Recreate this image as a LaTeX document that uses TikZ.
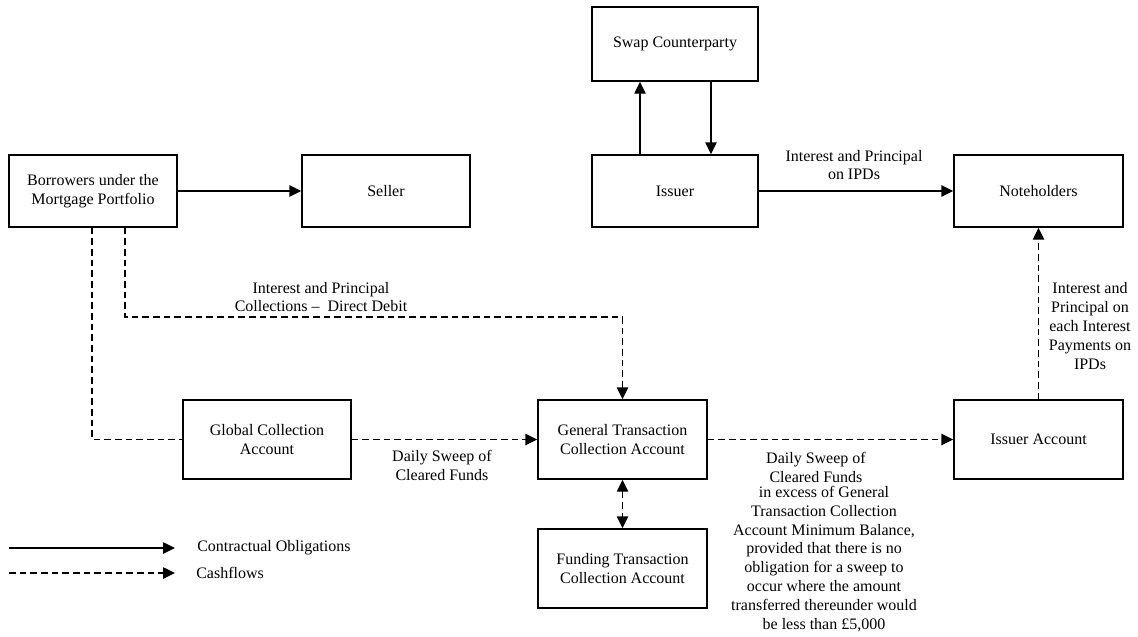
\documentclass[tikz,border=0pt]{standalone}
\usepackage{fontspec}
\setmainfont{Liberation Serif}
\usetikzlibrary{arrows.meta,calc}
\begin{document}
\begin{tikzpicture}[x=0.75pt,y=-0.75pt,
  box/.style={draw,line width=1.1pt,rectangle,inner sep=0pt,align=center,font=\fontsize{12}{14.5}\selectfont},
  lbl/.style={inner sep=0pt,align=center,font=\fontsize{12}{14.2}\selectfont},
  contract/.style={line width=1.1pt,-{Triangle[length=9pt,width=8.5pt]}},
  cash/.style={line width=1.1pt,dash pattern=on 5pt off 3pt,-{Triangle[length=9pt,width=8.5pt]}},
  cashboth/.style={line width=1.1pt,dash pattern=on 5pt off 3pt,{Triangle[length=9pt,width=8.5pt]}-{Triangle[length=9pt,width=8.5pt]}},
  plain/.style={line width=1.1pt,dash pattern=on 5pt off 3pt}]
\useasboundingbox (0,0) rectangle (1138,636);
% boxes
\node[box,minimum width=126pt,minimum height=54pt] (borrowers) at (93,191) {Borrowers under the\\Mortgage Portfolio};
\node[box,minimum width=126pt,minimum height=54pt] (seller) at (386,191) {Seller};
\node[box,minimum width=124.5pt,minimum height=55.5pt] (swap) at (675,44) {Swap Counterparty};
\node[box,minimum width=124.5pt,minimum height=54pt] (issuer) at (675,191) {Issuer};
\node[box,minimum width=126.75pt,minimum height=54pt] (notes) at (1038.5,191) {Noteholders};
\node[box,minimum width=126pt,minimum height=59.25pt] (global) at (267,439.5) {Global Collection\\Account};
\node[box,minimum width=126.75pt,minimum height=59.25pt] (gtca) at (622.5,439.5) {General Transaction\\Collection Account};
\node[box,minimum width=126.75pt,minimum height=59.25pt] (issacc) at (1038.5,439.5) {Issuer Account};
\node[box,minimum width=126.75pt,minimum height=59.25pt] (funding) at (622.5,568.5) {Funding Transaction\\Collection Account};
% connectors
\draw[contract] (borrowers.east) -- (seller.west);
\draw[contract] ($(issuer.north)+(-35,0)$) -- ($(swap.south)+(-35,0)$);
\draw[contract] ($(swap.south)+(36,0)$) -- ($(issuer.north)+(36,0)$);
\draw[contract] (issuer.east) -- (notes.west);
\coordinate (ddturn) at (622.5,317);
\draw[cash] ($(borrowers.south)+(32,0)$) |- (ddturn) -- (gtca.north);
\draw[plain] ($(borrowers.south)+(-1,0)$) |- (global.west);
\draw[cash] (global.east) -- (gtca.west);
\draw[cash] (gtca.east) -- (issacc.west);
\draw[cashboth] (gtca.south) -- (funding.north);
\draw[cash] (issacc.north) -- (notes.south);
% labels
\node[lbl] (lip) at (854,165) {Interest and Principal\\on IPDs};
\node[lbl] (lcoll) at (321,297) {Interest and Principal\\Collections --\ \ Direct Debit};
\node[lbl] (ldaily) at (442,465) {Daily Sweep of\\Cleared Funds};
\node[lbl] (lipd) at (1090,326) {Interest and\\Principal on\\each Interest\\Payments on\\IPDs};
\node[lbl] (lsweepA) at (816,467) {Daily Sweep of\\Cleared Funds};
\node[lbl] (lsweepB) at (824,559) {in excess of General\\Transaction Collection\\Account Minimum Balance,\\provided that there is no\\obligation for a sweep to\\occur where the amount\\transferred thereunder would\\be less than £5,000};
% legend
\coordinate (la1) at (9,548);
\coordinate (lb1) at (175,548);
\coordinate (la2) at (9,573);
\coordinate (lb2) at (175,573);
\draw[contract] (la1) -- (lb1);
\draw[cash] (la2) -- (lb2);
\node[lbl,anchor=west] (lcontract) at (197,548) {Contractual Obligations};
\node[lbl,anchor=west] (lcash) at (196,573) {Cashflows};
\end{tikzpicture}
\end{document}
